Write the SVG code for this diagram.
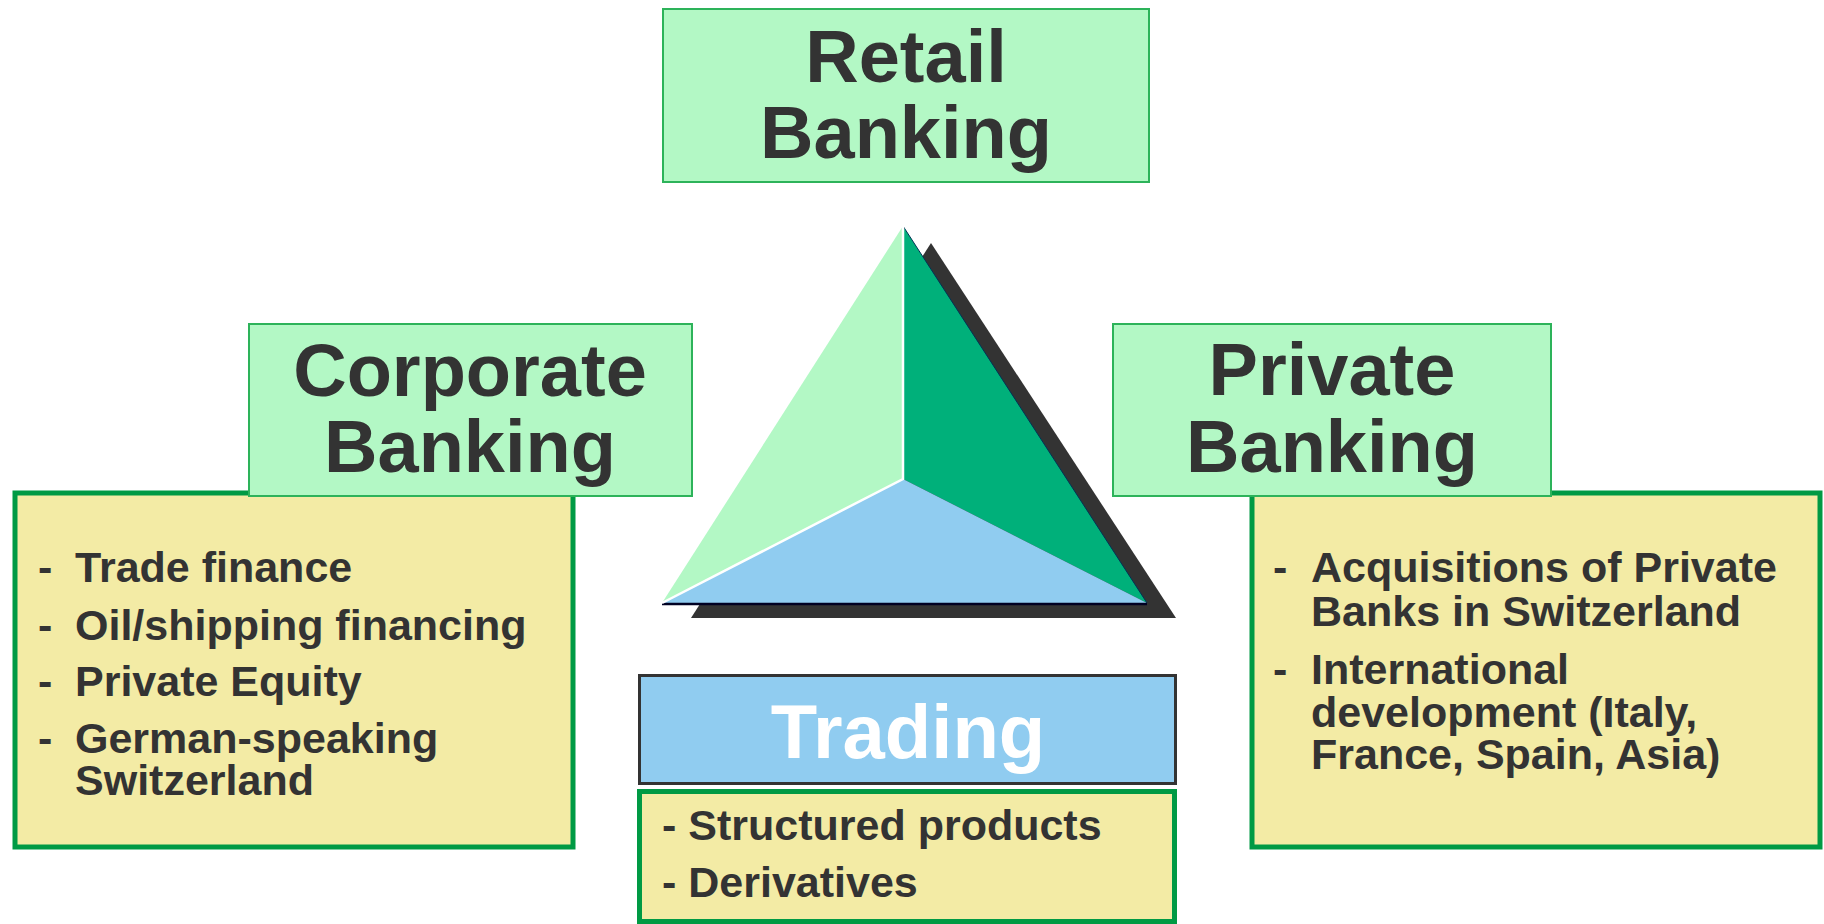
<svg xmlns="http://www.w3.org/2000/svg" width="1824" height="924" viewBox="0 0 1824 924">
<style>
.title{fill:#b3f8c5;stroke:#2db35a;stroke-width:2}
.list{fill:#f3eba5;stroke:#009a44;stroke-width:5}
.h{font-family:"Liberation Sans",Arial,sans-serif;font-weight:bold;font-size:74px;fill:#333333;text-anchor:middle}
.b{font-family:"Liberation Sans",Arial,sans-serif;font-weight:bold;font-size:43px;fill:#333333}
</style>
<rect width="1824" height="924" fill="#ffffff"/>
<g id="pyramid">
<polygon points="931,243 691,618 1176,618" fill="#333333"/>
<polygon points="903,226 903,479 662,603" fill="#b3f8c5"/>
<polygon points="903,226 1147,603 903,479" fill="#00b07a"/>
<polygon points="662,603 903,479 1147,603" fill="#90ccf0"/>
<line x1="903" y1="226" x2="1147" y2="603" stroke="#003355" stroke-width="1"/>
<line x1="662" y1="604" x2="1147" y2="604" stroke="#000022" stroke-width="2.5"/>
<polyline points="903,226 903,479 662,603" fill="none" stroke="#ffffff" stroke-width="2.5"/>
</g>
<g id="retail">
<rect class="title" x="663" y="9" width="486" height="173"/>
<text class="h" x="906" y="82">Retail</text>
<text class="h" x="906" y="158">Banking</text>
</g>
<g id="corporate-list">
<rect class="list" x="15" y="493" width="558" height="354"/>
<text class="b" x="38" y="582">-</text><text class="b" x="75" y="582">Trade finance</text>
<text class="b" x="38" y="640">-</text><text class="b" x="75" y="640">Oil/shipping financing</text>
<text class="b" x="38" y="696">-</text><text class="b" x="75" y="696">Private Equity</text>
<text class="b" x="38" y="753">-</text><text class="b" x="75" y="753">German-speaking</text>
<text class="b" x="75" y="795">Switzerland</text>
</g>
<g id="corporate">
<rect class="title" x="249" y="324" width="443" height="172"/>
<text class="h" x="470" y="396">Corporate</text>
<text class="h" x="470" y="472">Banking</text>
</g>
<g id="private-list">
<rect class="list" x="1252" y="493" width="568" height="354"/>
<text class="b" x="1273" y="582">-</text><text class="b" x="1311" y="582">Acquisitions of Private</text>
<text class="b" x="1311" y="626">Banks in Switzerland</text>
<text class="b" x="1273" y="684">-</text><text class="b" x="1311" y="684">International</text>
<text class="b" x="1311" y="727">development (Italy,</text>
<text class="b" x="1311" y="769">France, Spain, Asia)</text>
</g>
<g id="private">
<rect class="title" x="1113" y="324" width="438" height="172"/>
<text class="h" x="1332" y="395">Private</text>
<text class="h" x="1332" y="472">Banking</text>
</g>
<g id="trading">
<rect x="639.5" y="675.5" width="536" height="108" fill="#90ccf0" stroke="#333333" stroke-width="3"/>
<text class="h" x="908" y="758" style="fill:#ffffff;font-size:76px">Trading</text>
</g>
<g id="trading-list">
<rect class="list" x="639.5" y="791.5" width="535" height="130"/>
<text class="b" x="662" y="840">- Structured products</text>
<text class="b" x="662" y="897">- Derivatives</text>
</g>
<g id="connectors"/>
</svg>
